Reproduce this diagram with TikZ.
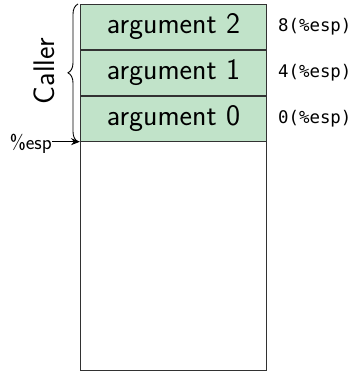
\documentclass[tikz,border=0pt]{standalone}
\usepackage{fontspec}
\newfontfamily\offmono{DejaVu Sans Mono}
\usetikzlibrary{decorations.pathreplacing,arrows.meta,calc}
\definecolor{argfill}{RGB}{193,227,201}
\definecolor{edgegray}{RGB}{50,50,50}
\begin{document}
\begin{tikzpicture}[x=1pt,y=-1pt,
  slot/.style={draw=edgegray, line width=0.9pt, fill=argfill, minimum width=186pt,
    minimum height=45pt, inner sep=0pt, font=\fontsize{29.8}{32}\sffamily},
  offlabel/.style={font=\fontsize{17.4}{20}\offmono, anchor=west, inner sep=0pt},
  stackbox/.style={draw=edgegray, line width=0.9pt, minimum width=186pt,
    minimum height=366pt, inner sep=0pt, anchor=north west}]
\useasboundingbox (0,0) rectangle (352,371);
\node[stackbox] (stack) at (80,4) {};
\node[slot, anchor=north west] (a2) at (80,4) {argument 2};
\node[slot, anchor=north] (a1) at (a2.south) {argument 1};
\node[slot, anchor=north] (a0) at (a1.south) {argument 0};
\node[offlabel] (o2) at ($(a2.east)+(11,0)$) {8(\%esp)};
\node[offlabel] (o1) at ($(a1.east)+(11,0)$) {4(\%esp)};
\node[offlabel] (o0) at ($(a0.east)+(11,0)$) {0(\%esp)};
\draw[decorate, decoration={brace, amplitude=10pt}, line width=0.9pt]
  ($(a0.south west)+(-2,0)$) -- ($(a2.north west)+(-2,0)$);
\node[rotate=90, inner sep=0pt, font=\fontsize{29.8}{32}\sffamily] (caller) at (44,71) {Caller};
\node[anchor=base east, inner sep=0pt, font=\fontsize{20.5}{24}\sffamily] (esp) at (52,150) {\%esp};
\draw[-{Stealth[length=9pt,width=7pt]}, line width=0.9pt] (esp.east |- a0.south west) -- (a0.south west);
\end{tikzpicture}
\end{document}
